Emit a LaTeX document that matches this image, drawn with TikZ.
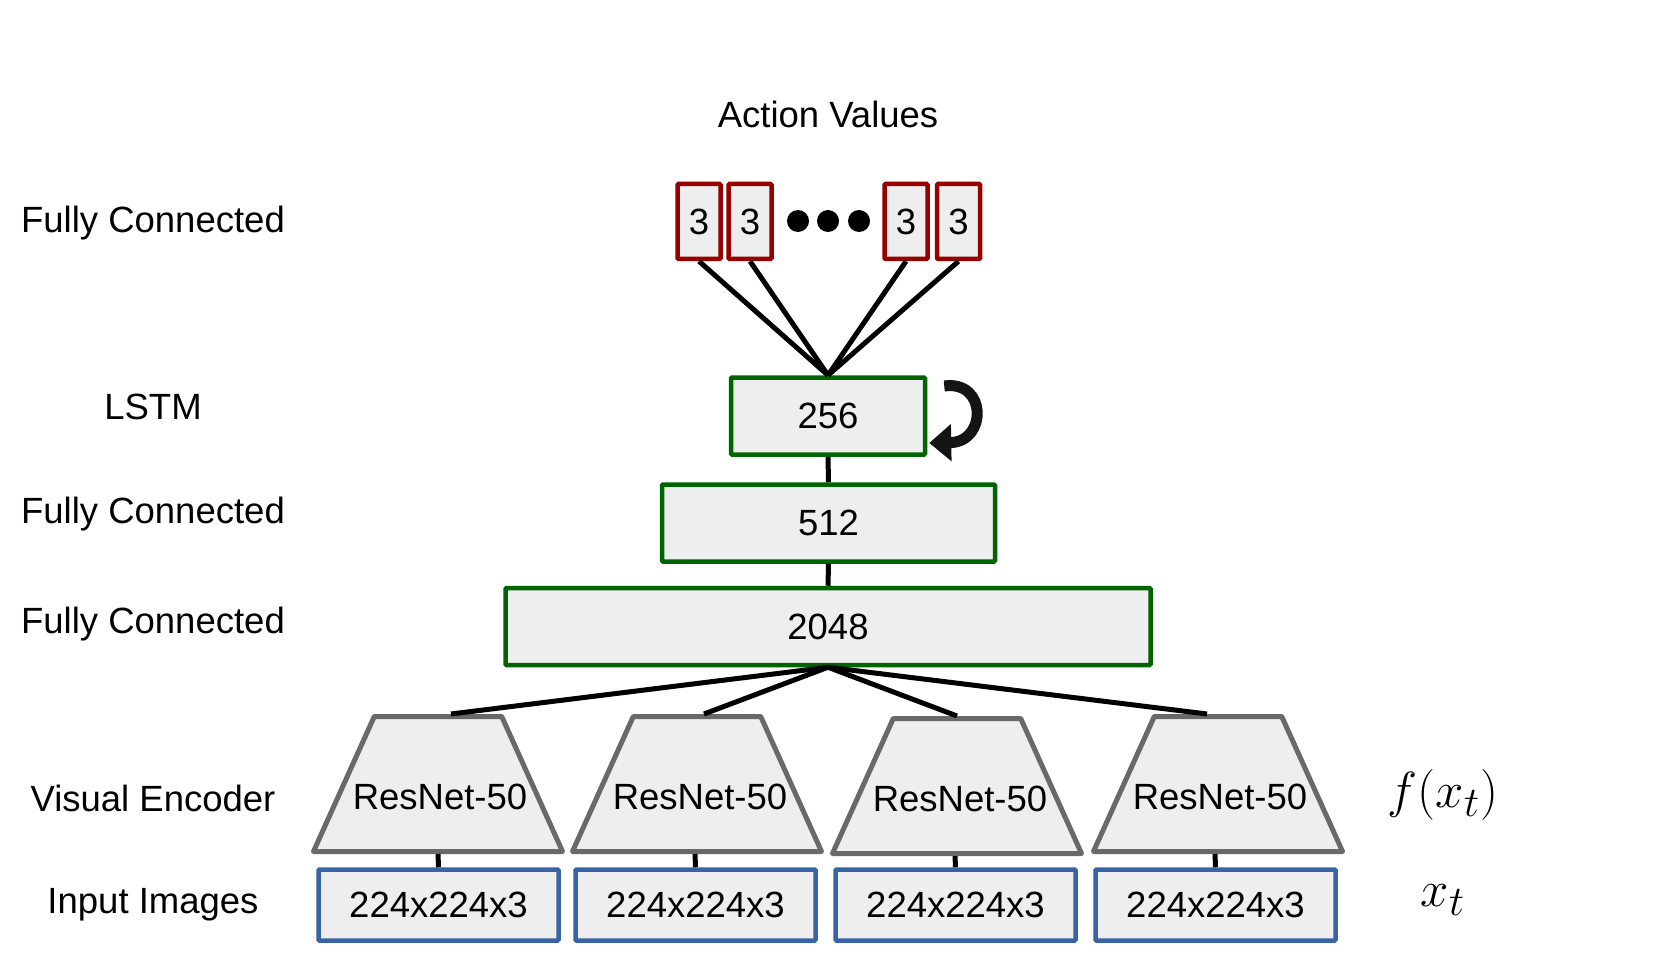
\documentclass[tikz,border=0pt]{standalone}
\usepackage{fontspec}
\setmainfont{Liberation Sans}
\usetikzlibrary{shapes.geometric,arrows.meta}
\definecolor{boxfill}{RGB}{238,238,238}
\definecolor{redb}{RGB}{150,0,0}
\definecolor{greenb}{RGB}{0,100,0}
\definecolor{blueb}{RGB}{55,100,165}
\definecolor{grayb}{RGB}{105,105,105}
\begin{document}
\begin{tikzpicture}[x=1pt,y=-1pt,
  txt/.style={font=\fontsize{36.5}{43}\selectfont, inner sep=0pt},
  mth/.style={font=\fontsize{24.88}{30}\selectfont, inner sep=0pt},
  abox/.style={txt, draw=redb, fill=boxfill, line width=4.5pt, rounded corners=1pt, minimum width=43pt, minimum height=75pt},
  gbox/.style={txt, draw=greenb, fill=boxfill, line width=4.5pt, rounded corners=1pt, minimum height=77pt},
  ibox/.style={txt, draw=blueb, fill=boxfill, line width=4.5pt, rounded corners=1pt, minimum width=240pt, minimum height=71pt},
  enc/.style={trapezium, trapezium angle=64.5, trapezium stretches=true, draw=grayb, fill=boxfill, line width=5pt, line join=round, minimum width=249pt, minimum height=135pt, inner sep=3pt},
  conn/.style={line width=5pt, black},
  dotn/.style={circle, fill=black, minimum size=22pt, inner sep=0pt}
]
\useasboundingbox (0,0) rectangle (1659,973);

% title
\node[txt] (title) at (828,114) {Action Values};

% left labels
\node[txt] (l1) at (153,223) {Fully Connected};
\node[txt] (l2) at (153,407) {LSTM};
\node[txt] (l3) at (153,514) {Fully Connected};
\node[txt] (l4) at (153,624) {Fully Connected};
\node[txt] (l5) at (153,798) {Visual Encoder};
\node[txt] (l6) at (153,905) {Input Images};

% right math labels
\node[mth] (fx) at (1443,795) {\scalebox{2.04}{$f(x_t)$}};
\node[mth] (xt) at (1443,900) {\scalebox{2.04}{$x_t$}};

% action value boxes
\node[abox] (a1) at (699,221.5) {3};
\node[abox] (a2) at (750,221.5) {3};
\node[abox] (a3) at (906,221.5) {3};
\node[abox] (a4) at (958.5,221.5) {3};
\node[dotn] (d1) at (798,221) {};
\node[dotn] (d2) at (828,221) {};
\node[dotn] (d3) at (859,221) {};

% green boxes
\node[gbox, minimum width=194pt] (lstm) at (828,416) {256};
\node[gbox, minimum width=333pt] (fc1) at (828.5,523) {512};
\node[gbox, minimum width=645pt] (fc2) at (828,626.5) {2048};

% encoders
\node[enc] (t1) at (438,784) {};
\node[enc] (t2) at (697,784) {};
\node[enc] (t3) at (957,786) {};
\node[enc] (t4) at (1218,784) {};
\node[txt] (n1) at (440,797) {ResNet-50};
\node[txt] (n2) at (700,797) {ResNet-50};
\node[txt] (n3) at (960,799) {ResNet-50};
\node[txt] (n4) at (1220,797) {ResNet-50};

% input images
\node[ibox] (i1) at (438.5,905) {224x224x3};
\node[ibox] (i2) at (695.5,905) {224x224x3};
\node[ibox] (i3) at (955.5,905) {224x224x3};
\node[ibox] (i4) at (1215.5,905) {224x224x3};

% connectors
\foreach \a in {a1,a2,a3,a4} \draw[conn] (\a.south) -- (lstm.north);
\draw[conn] (lstm.south) -- (fc1.north);
\draw[conn] (fc1.south) -- (fc2.north);
\draw[conn] (fc2.south) -- ([xshift=13pt]t1.north);
\draw[conn] (fc2.south) -- ([xshift=7pt]t2.north);
\draw[conn] (fc2.south) -- (t3.north);
\draw[conn] (fc2.south) -- ([xshift=-11pt]t4.north);
\draw[conn] (t1.south) -- (i1.north);
\draw[conn] ([xshift=-2pt]t2.south) -- (i2.north);
\draw[conn] ([xshift=-2pt]t3.south) -- (i3.north);
\draw[conn] ([xshift=-3pt]t4.south) -- (i4.north);

% recurrent arrow
\draw[line width=11pt, black!92, -{Triangle[width=36pt,length=22pt]}]
  ([shift={(17,-30)}]lstm.east) .. controls ([shift={(60,-36)}]lstm.east) and ([shift={(60,26)}]lstm.east) .. ([shift={(2,27)}]lstm.east);
\end{tikzpicture}
\end{document}
